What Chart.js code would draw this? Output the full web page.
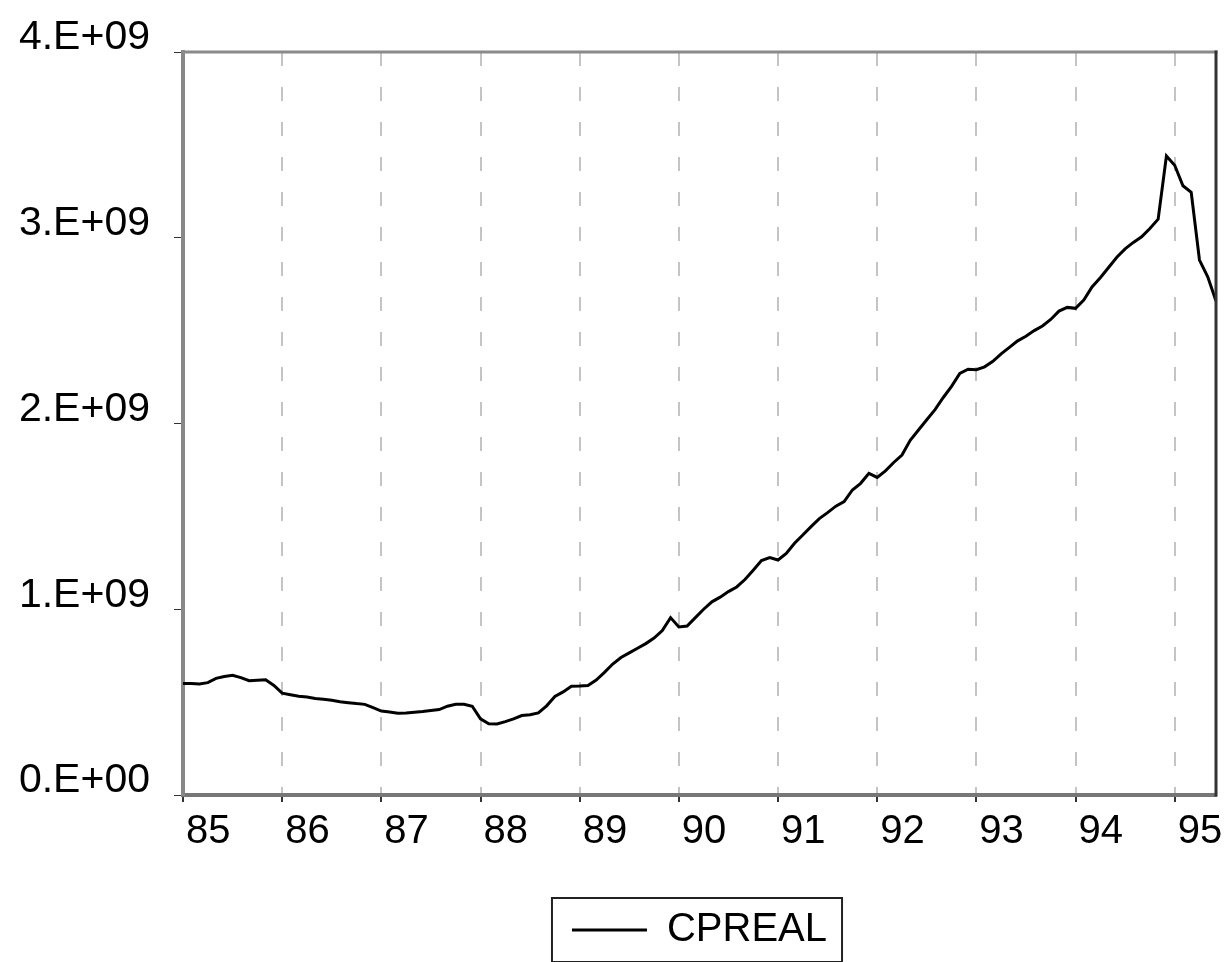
<!DOCTYPE html>
<html>
<head>
<meta charset="utf-8">
<script src="https://cdn.jsdelivr.net/npm/chart.js@4.4.0/dist/chart.umd.min.js"></script>
<style>
  html, body { margin: 0; padding: 0; background: #fff; }
  #wrap { width: 1224px; height: 962px; position: relative; }
</style>
</head>
<body>
<div id="wrap"><canvas id="c" width="1224" height="962"></canvas></div>
<script>
// Monthly observations, 1985M01 .. 1995M06 (values in units of 1e9)
const startYear = 1985;
const cprealBillions = [
  0.600, 0.600, 0.598, 0.605, 0.628, 0.638, 0.645, 0.632, 0.615, 0.618, 0.620, 0.590,
  0.548, 0.540, 0.532, 0.528, 0.520, 0.515, 0.510, 0.502, 0.497, 0.492, 0.488, 0.470,
  0.452, 0.447, 0.440, 0.441, 0.446, 0.450, 0.455, 0.460, 0.478, 0.488, 0.488, 0.478,
  0.410, 0.383, 0.382, 0.395, 0.410, 0.428, 0.432, 0.442, 0.480, 0.530, 0.555, 0.585,
  0.587, 0.590, 0.619, 0.660, 0.705, 0.740, 0.765, 0.790, 0.815, 0.845, 0.885, 0.955,
  0.905, 0.910, 0.955, 1.000, 1.040, 1.065, 1.095, 1.120, 1.160, 1.210, 1.262, 1.278,
  1.265, 1.300, 1.355, 1.400, 1.445, 1.488, 1.520, 1.555, 1.580, 1.642, 1.678, 1.732,
  1.710, 1.745, 1.790, 1.830, 1.910, 1.965, 2.020, 2.075, 2.140, 2.200, 2.270, 2.292,
  2.290, 2.305, 2.335, 2.375, 2.410, 2.445, 2.470, 2.500, 2.525, 2.560, 2.605, 2.625,
  2.620, 2.665, 2.735, 2.785, 2.840, 2.895, 2.940, 2.975, 3.005, 3.050, 3.100, 3.440,
  3.390, 3.280, 3.245, 2.880, 2.790, 2.660
];
const yTickLabels = ['0.E+00', '1.E+09', '2.E+09', '3.E+09', '4.E+09'];
const xYearLabels = ['85', '86', '87', '88', '89', '90', '91', '92', '93', '94', '95'];

const categories = cprealBillions.map((_, i) => {
  const y = startYear + Math.floor(i / 12);
  const m = (i % 12) + 1;
  return y + 'M' + String(m).padStart(2, '0');
});
const cpreal = cprealBillions.map(v => v * 1e9);

const FONT = '"Liberation Sans", Arial, sans-serif';

const framePlugin = {
  id: 'frame',
  afterDraw(chart) {
    const ctx = chart.ctx;
    const a = chart.chartArea;
    ctx.save();
    ctx.lineCap = 'square';
    ctx.strokeStyle = '#8a8a8a';
    ctx.lineWidth = 3;
    ctx.beginPath();
    ctx.moveTo(a.left, a.top);
    ctx.lineTo(a.right, a.top);
    ctx.stroke();
    ctx.strokeStyle = '#333';
    ctx.lineWidth = 3;
    ctx.beginPath();
    ctx.moveTo(a.right, a.top);
    ctx.lineTo(a.right, a.bottom);
    ctx.stroke();
    const lg = chart.legend;
    if (lg && lg.legendHitBoxes && lg.legendHitBoxes.length) {
      const hb = lg.legendHitBoxes[0];
      ctx.strokeStyle = '#222';
      ctx.lineWidth = 2;
      ctx.strokeRect(hb.left - 20, hb.top - 12, hb.width + 35, hb.height + 24);
    }
    ctx.restore();
  }
};

new Chart(document.getElementById('c'), {
  type: 'line',
  data: {
    labels: categories,
    datasets: [{
      label: 'CPREAL',
      data: cpreal,
      borderColor: '#000',
      backgroundColor: '#000',
      borderWidth: 3,
      pointRadius: 0,
      tension: 0,
      fill: false
    }]
  },
  options: {
    responsive: false,
    animation: false,
    devicePixelRatio: 1,
    layout: { padding: { top: 52, right: 8, left: 0, bottom: 2 } },
    plugins: {
      tooltip: { enabled: false },
      legend: {
        position: 'bottom',
        fullSize: false,
        labels: {
          font: { family: FONT, size: 40 },
          color: '#000',
          usePointStyle: true,
          pointStyle: 'line',
          pointStyleWidth: 75,
          padding: 10
        }
      }
    },
    scales: {
      x: {
        type: 'category',
        offset: false,
        afterFit(s) { s.height = 105; },
        grid: {
          display: true,
          drawOnChartArea: true,
          drawTicks: true,
          tickLength: 7,
          lineWidth: 2,
          color: (c) => (c.index % 12 === 0 && c.index > 0) ? '#c4c4c4' : 'rgba(0,0,0,0)',
          tickColor: (c) => (c.index % 12 === 0) ? '#333' : 'rgba(0,0,0,0)'
        },
        border: { display: true, color: '#777', width: 4, dash: [14, 21] },
        ticks: {
          autoSkip: false,
          maxRotation: 0,
          minRotation: 0,
          align: 'start',
          labelOffset: 3,
          padding: 6,
          color: '#000',
          font: { family: FONT, size: 40 },
          callback: (v, i) => (i % 12 === 0) ? xYearLabels[i / 12] : ''
        }
      },
      y: {
        min: 0,
        max: 4e9,
        afterFit(s) { s.width = 183; },
        grid: {
          drawOnChartArea: false,
          drawTicks: true,
          tickLength: 9,
          tickColor: '#333'
        },
        border: { display: true, color: '#888', width: 4 },
        ticks: {
          stepSize: 1e9,
          padding: 24,
          labelOffset: -14,
          color: '#000',
          font: { family: FONT, size: 41 },
          callback: (v) => yTickLabels[Math.round(v / 1e9)]
        }
      }
    }
  },
  plugins: [framePlugin]
});
</script>
</body>
</html>
